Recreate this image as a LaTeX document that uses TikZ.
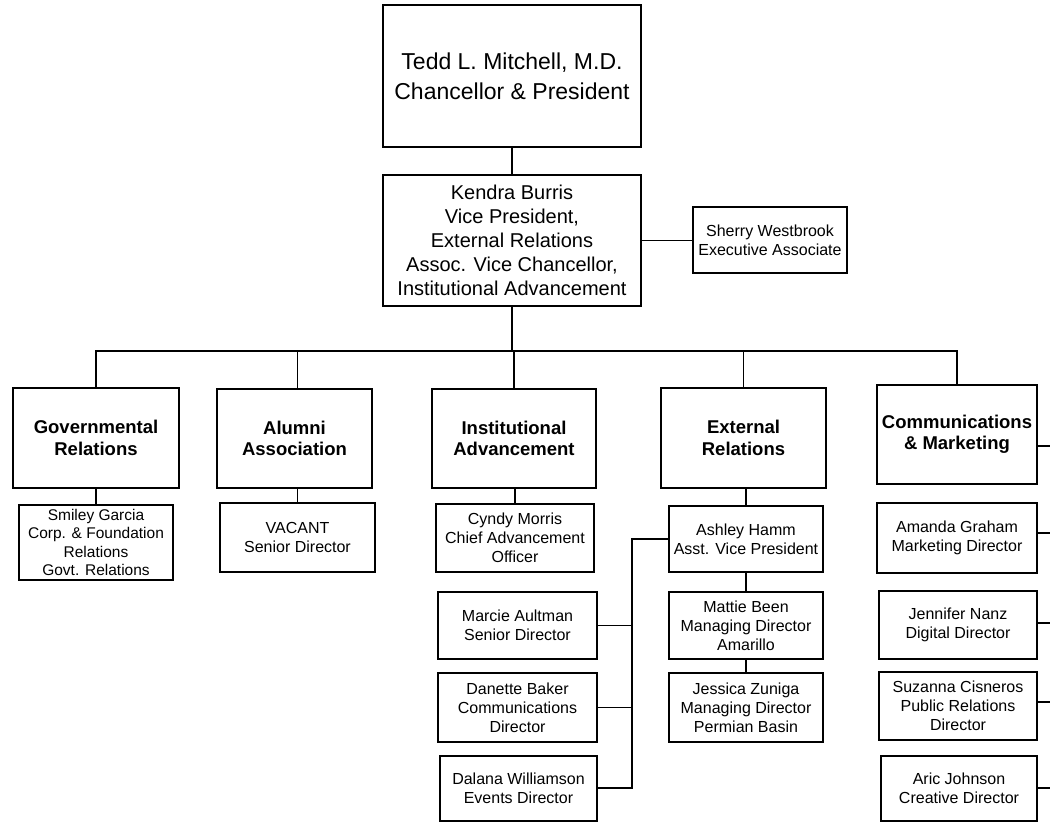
\documentclass[tikz,border=0pt]{standalone}
\usepackage{fontspec}
\setmainfont{Liberation Sans}
\begin{document}
\begin{tikzpicture}[x=1pt,y=-1pt,
  box/.style={draw, line width=1.5pt, inner sep=0pt, outer sep=0pt, align=center, fill=white},
  big/.style={box, font=\fontsize{23}{30}\selectfont},
  mid/.style={box, font=\fontsize{20}{24}\selectfont},
  dept/.style={box, font=\bfseries\fontsize{18.5}{21.5}\selectfont},
  small/.style={box, font=\fontsize{16}{19}\selectfont},
  tiny/.style={box, font=\fontsize{15.5}{18.2}\selectfont},
  conn/.style={line width=1.5pt}]
\useasboundingbox (0,0) rectangle (1050,822);
% connectors first (behind boxes)
\coordinate (bus) at (514,351);
\coordinate (vb) at (632,788);
\coordinate (r0) at (1050,446);
\coordinate (r1) at (1050,533);
\coordinate (r2) at (1050,623);
\coordinate (r3) at (1050,702);
\coordinate (r4) at (1050,788);
% top levels
\node[big, minimum width=258pt, minimum height=142pt] (top) at (512,76) {Tedd L. Mitchell, M.D.\\Chancellor \& President};
\node[mid, minimum width=258pt, minimum height=131pt] (kendra) at (512,240.5) {Kendra Burris\\Vice President,\\External Relations\\Assoc. Vice Chancellor,\\Institutional Advancement};
\node[small, minimum width=154pt, minimum height=66pt] (sherry) at (770,240) {Sherry Westbrook\\Executive Associate};
% departments
\node[dept, minimum width=166pt, minimum height=100pt] (gov) at (96,438) {Governmental\\Relations};
\node[dept, minimum width=155pt, minimum height=99pt] (alum) at (294.5,438.5) {Alumni\\Association};
\node[dept, minimum width=164pt, minimum height=99pt] (inst) at (514,438.5) {Institutional\\Advancement};
\node[dept, minimum width=165pt, minimum height=100pt] (ext) at (743.5,438) {External\\Relations};
\node[dept, minimum width=160pt, minimum height=99pt] (com) at (957,434.5) {Communications\\\& Marketing};
% sub boxes
\node[tiny, minimum width=154pt, minimum height=75pt] (smiley) at (96,542.5) {Smiley Garcia\\Corp. \& Foundation\\Relations\\Govt. Relations};
\node[small, minimum width=155pt, minimum height=69pt] (vacant) at (297.5,537.5) {VACANT\\Senior Director};
\node[small, minimum width=158pt, minimum height=68pt] (cyndy) at (515,538) {Cyndy Morris\\Chief Advancement\\Officer};
\node[small, minimum width=159pt, minimum height=67pt] (marcie) at (517.5,625.5) {Marcie Aultman\\Senior Director};
\node[small, minimum width=159pt, minimum height=69pt] (danette) at (517.5,707.5) {Danette Baker\\Communications\\Director};
\node[small, minimum width=157pt, minimum height=65pt] (dalana) at (518.5,788.5) {Dalana Williamson\\Events Director};
\node[small, minimum width=154pt, minimum height=66pt] (ashley) at (746,539) {Ashley Hamm\\Asst. Vice President};
\node[small, minimum width=154pt, minimum height=67pt] (mattie) at (746,625.5) {Mattie Been\\Managing Director\\Amarillo};
\node[small, minimum width=154pt, minimum height=69pt] (jessica) at (746,707.5) {Jessica Zuniga\\Managing Director\\Permian Basin};
\node[small, minimum width=160pt, minimum height=70pt] (amanda) at (957,538) {Amanda Graham\\Marketing Director};
\node[small, minimum width=158pt, minimum height=68pt] (jennifer) at (958,625) {Jennifer Nanz\\Digital Director};
\node[small, minimum width=158pt, minimum height=68pt] (suzanna) at (958,706) {Suzanna Cisneros\\Public Relations\\Director};
\node[small, minimum width=156pt, minimum height=65pt] (aric) at (959,788.5) {Aric Johnson\\Creative Director};
% connectors
\draw[conn] (top.south) -- (kendra.north);
\draw[conn] (kendra.east) -- (kendra.east -| sherry.west);
\draw[conn] (kendra.south) -- (kendra.south |- bus);
\draw[conn] (gov.north) -- (gov.north |- bus) -- (com.north |- bus) -- (com.north);
\draw[conn] (vacant.north |- alum.north) -- (vacant.north |- bus);
\draw[conn] (inst.north) -- (inst.north |- bus);
\draw[conn] (ext.north) -- (ext.north |- bus);
\draw[conn] (gov.south) -- (smiley.north);
\draw[conn] (vacant.north) -- (vacant.north |- alum.south);
\draw[conn] (cyndy.north) -- (cyndy.north |- inst.south);
\draw[conn] (ashley.north) -- (ashley.north |- ext.south);
\draw[conn] (ashley.south) -- (mattie.north);
\draw[conn] (mattie.south) -- (jessica.north);
\draw[conn] (ashley.west) -| (vb) -- (vb -| dalana.east);
\draw[conn] (marcie.east) -- (marcie.east -| vb);
\draw[conn] (danette.east) -- (danette.east -| vb);
\draw[conn] (r0) -- (r0 -| com.east);
\draw[conn] (r1) -- (r1 -| amanda.east);
\draw[conn] (r2) -- (r2 -| jennifer.east);
\draw[conn] (r3) -- (r3 -| suzanna.east);
\draw[conn] (r4) -- (r4 -| aric.east);
\end{tikzpicture}
\end{document}
